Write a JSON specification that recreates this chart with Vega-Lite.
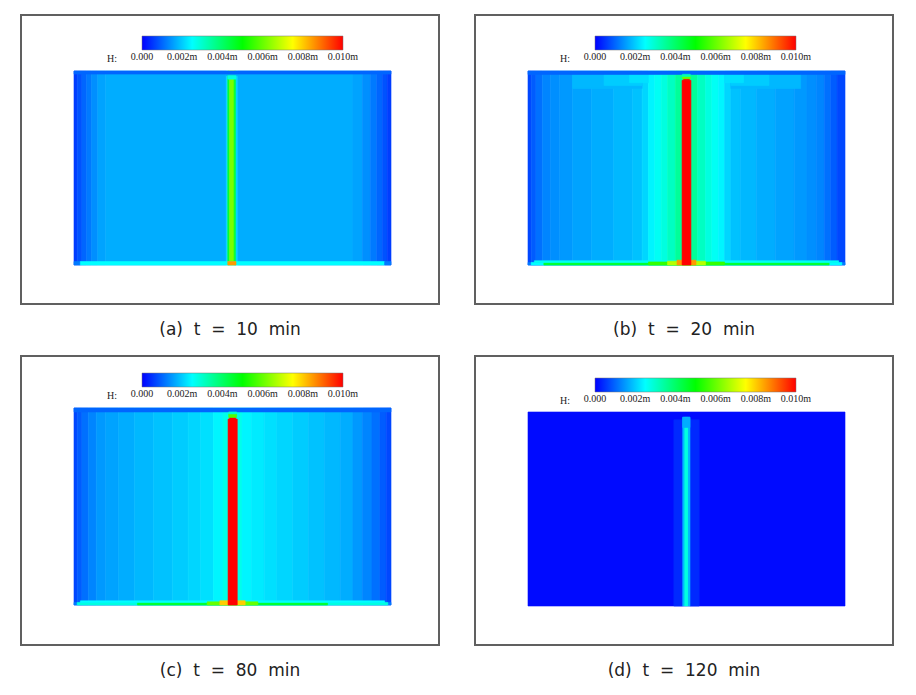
{
  "$schema": "https://vega.github.io/schema/vega-lite/v6.json",
  "background": "white",
  "padding": {"left": 20, "top": 14, "right": 0, "bottom": 0},
  "config": {
    "view": {"stroke": "#606060", "strokeWidth": 2},
    "title": {"font": "DejaVu Sans", "fontSize": 17, "fontWeight": "normal", "color": "#222222", "orient": "bottom", "offset": 18},
    "legend": {"orient": "none", "direction": "horizontal", "gradientLength": 201, "gradientThickness": 14, "gradientStrokeColor": "#777777", "gradientStrokeWidth": 0.5, "labelFont": "Liberation Serif", "labelFontSize": 10, "labelColor": "#222222", "labelOverlap": false, "labelOffset": 4, "titleFont": "Liberation Serif", "titleFontSize": 10, "titleFontWeight": "normal", "titleColor": "#222222", "titleOrient": "left", "titleAnchor": "end", "titleBaseline": "line-top", "titleLineHeight": 18, "titlePadding": 25}
  },
  "datasets": {
    "a": [
      {"x0": 0, "x1": 1, "y0": 0, "y1": 100, "H": 0.0006},
      {"x0": 1, "x1": 2.5, "y0": 0, "y1": 100, "H": 0.0008},
      {"x0": 2.5, "x1": 4, "y0": 0, "y1": 100, "H": 0.001},
      {"x0": 4, "x1": 5.5, "y0": 0, "y1": 100, "H": 0.0012},
      {"x0": 5.5, "x1": 7.5, "y0": 0, "y1": 100, "H": 0.0014},
      {"x0": 7.5, "x1": 10, "y0": 0, "y1": 100, "H": 0.0016},
      {"x0": 10, "x1": 48, "y0": 0, "y1": 100, "H": 0.0017},
      {"x0": 48, "x1": 48.5, "y0": 0, "y1": 100, "H": 0.0021},
      {"x0": 48.5, "x1": 49.1, "y0": 0, "y1": 100, "H": 0.0045},
      {"x0": 49.1, "x1": 50.5, "y0": 0, "y1": 100, "H": 0.0062},
      {"x0": 50.5, "x1": 51.1, "y0": 0, "y1": 100, "H": 0.0045},
      {"x0": 51.1, "x1": 51.7, "y0": 0, "y1": 100, "H": 0.0021},
      {"x0": 51.7, "x1": 88, "y0": 0, "y1": 100, "H": 0.0017},
      {"x0": 88, "x1": 91, "y0": 0, "y1": 100, "H": 0.0016},
      {"x0": 91, "x1": 93.5, "y0": 0, "y1": 100, "H": 0.0014},
      {"x0": 93.5, "x1": 95.5, "y0": 0, "y1": 100, "H": 0.0012},
      {"x0": 95.5, "x1": 97.3, "y0": 0, "y1": 100, "H": 0.001},
      {"x0": 97.3, "x1": 98.8, "y0": 0, "y1": 100, "H": 0.0008},
      {"x0": 98.8, "x1": 100, "y0": 0, "y1": 100, "H": 0.0006},
      {"x0": 48, "x1": 51.7, "y0": 97.6, "y1": 98.4, "H": 0.0017},
      {"x0": 48.5, "x1": 51.1, "y0": 95.8, "y1": 97.6, "H": 0.0028},
      {"x0": 0, "x1": 100, "y0": 98.4, "y1": 100, "H": 0.001},
      {"x0": 0, "x1": 2, "y0": 0, "y1": 1.8, "H": 0.0012},
      {"x0": 2, "x1": 98, "y0": 0, "y1": 1.8, "H": 0.0025},
      {"x0": 98, "x1": 100, "y0": 0, "y1": 1.8, "H": 0.0012},
      {"x0": 48.5, "x1": 51.1, "y0": 0, "y1": 1.8, "H": 0.0085}
    ],
    "b": [
      {"x0": 0, "x1": 1, "y0": 0, "y1": 100, "H": 0.0007},
      {"x0": 1, "x1": 2.5, "y0": 0, "y1": 100, "H": 0.0009},
      {"x0": 2.5, "x1": 4.5, "y0": 0, "y1": 100, "H": 0.0011},
      {"x0": 4.5, "x1": 7, "y0": 0, "y1": 100, "H": 0.0013},
      {"x0": 7, "x1": 10, "y0": 0, "y1": 100, "H": 0.0014},
      {"x0": 10, "x1": 14, "y0": 0, "y1": 100, "H": 0.0015},
      {"x0": 14, "x1": 20, "y0": 0, "y1": 100, "H": 0.0016},
      {"x0": 20, "x1": 27, "y0": 0, "y1": 100, "H": 0.0017},
      {"x0": 27, "x1": 33, "y0": 0, "y1": 100, "H": 0.0018},
      {"x0": 33, "x1": 36, "y0": 0, "y1": 100, "H": 0.0019},
      {"x0": 36, "x1": 38, "y0": 0, "y1": 100, "H": 0.0021},
      {"x0": 38, "x1": 40, "y0": 0, "y1": 100, "H": 0.0024},
      {"x0": 40, "x1": 42, "y0": 0, "y1": 100, "H": 0.0026},
      {"x0": 42, "x1": 44, "y0": 0, "y1": 100, "H": 0.0028},
      {"x0": 44, "x1": 46.5, "y0": 0, "y1": 100, "H": 0.0031},
      {"x0": 46.5, "x1": 53.5, "y0": 0, "y1": 100, "H": 0.0035},
      {"x0": 53.5, "x1": 56, "y0": 0, "y1": 100, "H": 0.0031},
      {"x0": 56, "x1": 58, "y0": 0, "y1": 100, "H": 0.0028},
      {"x0": 58, "x1": 60, "y0": 0, "y1": 100, "H": 0.0026},
      {"x0": 60, "x1": 62, "y0": 0, "y1": 100, "H": 0.0024},
      {"x0": 62, "x1": 64, "y0": 0, "y1": 100, "H": 0.0021},
      {"x0": 64, "x1": 67, "y0": 0, "y1": 100, "H": 0.0019},
      {"x0": 67, "x1": 72, "y0": 0, "y1": 100, "H": 0.0018},
      {"x0": 72, "x1": 78, "y0": 0, "y1": 100, "H": 0.0017},
      {"x0": 78, "x1": 84, "y0": 0, "y1": 100, "H": 0.0016},
      {"x0": 84, "x1": 88, "y0": 0, "y1": 100, "H": 0.0015},
      {"x0": 88, "x1": 91, "y0": 0, "y1": 100, "H": 0.0014},
      {"x0": 91, "x1": 93.5, "y0": 0, "y1": 100, "H": 0.0013},
      {"x0": 93.5, "x1": 95.5, "y0": 0, "y1": 100, "H": 0.0011},
      {"x0": 95.5, "x1": 97.5, "y0": 0, "y1": 100, "H": 0.0009},
      {"x0": 97.5, "x1": 100, "y0": 0, "y1": 100, "H": 0.0007},
      {"x0": 14, "x1": 36, "y0": 91, "y1": 98.2, "H": 0.0018},
      {"x0": 64, "x1": 86, "y0": 91, "y1": 98.2, "H": 0.0018},
      {"x0": 24, "x1": 36, "y0": 92.5, "y1": 98.2, "H": 0.002},
      {"x0": 64, "x1": 76, "y0": 92.5, "y1": 98.2, "H": 0.002},
      {"x0": 32, "x1": 38, "y0": 94, "y1": 98.2, "H": 0.0022},
      {"x0": 62, "x1": 68, "y0": 94, "y1": 98.2, "H": 0.0022},
      {"x0": 0, "x1": 100, "y0": 98.2, "y1": 100, "H": 0.001},
      {"x0": 0, "x1": 100, "y0": 0, "y1": 1.3, "H": 0.0012},
      {"x0": 1, "x1": 99, "y0": 0, "y1": 1.3, "H": 0.0025},
      {"x0": 5, "x1": 95, "y0": 0, "y1": 1.3, "H": 0.0045},
      {"x0": 2, "x1": 98, "y0": 1.3, "y1": 2.2, "H": 0.0026},
      {"x0": 38, "x1": 62, "y0": 0, "y1": 1.6, "H": 0.0055},
      {"x0": 44, "x1": 56, "y0": 0, "y1": 2, "H": 0.0068},
      {"x0": 47, "x1": 53, "y0": 0, "y1": 2.5, "H": 0.0085},
      {"x0": 48.6, "x1": 51.4, "y0": 0, "y1": 95.2, "H": 0.01},
      {"x0": 49.1, "x1": 50.9, "y0": 95.2, "y1": 96, "H": 0.01},
      {"x0": 48.7, "x1": 51.2, "y0": 96, "y1": 97.2, "H": 0.006},
      {"x0": 48.7, "x1": 51.2, "y0": 97.2, "y1": 98.3, "H": 0.0032}
    ],
    "c": [
      {"x0": 0, "x1": 1, "y0": 0, "y1": 100, "H": 0.0007},
      {"x0": 1, "x1": 2.5, "y0": 0, "y1": 100, "H": 0.0009},
      {"x0": 2.5, "x1": 4.5, "y0": 0, "y1": 100, "H": 0.0011},
      {"x0": 4.5, "x1": 7, "y0": 0, "y1": 100, "H": 0.0013},
      {"x0": 7, "x1": 10, "y0": 0, "y1": 100, "H": 0.0015},
      {"x0": 10, "x1": 14, "y0": 0, "y1": 100, "H": 0.0016},
      {"x0": 14, "x1": 19, "y0": 0, "y1": 100, "H": 0.0017},
      {"x0": 19, "x1": 25, "y0": 0, "y1": 100, "H": 0.0018},
      {"x0": 25, "x1": 31, "y0": 0, "y1": 100, "H": 0.0019},
      {"x0": 31, "x1": 36, "y0": 0, "y1": 100, "H": 0.002},
      {"x0": 36, "x1": 40, "y0": 0, "y1": 100, "H": 0.0021},
      {"x0": 40, "x1": 44, "y0": 0, "y1": 100, "H": 0.0022},
      {"x0": 44, "x1": 47, "y0": 0, "y1": 100, "H": 0.0024},
      {"x0": 47, "x1": 53, "y0": 0, "y1": 100, "H": 0.0027},
      {"x0": 53, "x1": 56, "y0": 0, "y1": 100, "H": 0.0024},
      {"x0": 56, "x1": 60, "y0": 0, "y1": 100, "H": 0.0023},
      {"x0": 60, "x1": 64, "y0": 0, "y1": 100, "H": 0.0022},
      {"x0": 64, "x1": 69, "y0": 0, "y1": 100, "H": 0.0021},
      {"x0": 69, "x1": 74, "y0": 0, "y1": 100, "H": 0.002},
      {"x0": 74, "x1": 79, "y0": 0, "y1": 100, "H": 0.0019},
      {"x0": 79, "x1": 84, "y0": 0, "y1": 100, "H": 0.0018},
      {"x0": 84, "x1": 88, "y0": 0, "y1": 100, "H": 0.0017},
      {"x0": 88, "x1": 91, "y0": 0, "y1": 100, "H": 0.0015},
      {"x0": 91, "x1": 94, "y0": 0, "y1": 100, "H": 0.0013},
      {"x0": 94, "x1": 96.5, "y0": 0, "y1": 100, "H": 0.0011},
      {"x0": 96.5, "x1": 98.5, "y0": 0, "y1": 100, "H": 0.0009},
      {"x0": 98.5, "x1": 100, "y0": 0, "y1": 100, "H": 0.0007},
      {"x0": 0, "x1": 100, "y0": 98, "y1": 100, "H": 0.001},
      {"x0": 0, "x1": 100, "y0": 0, "y1": 1.3, "H": 0.0012},
      {"x0": 1, "x1": 99, "y0": 0, "y1": 1.3, "H": 0.0028},
      {"x0": 20, "x1": 80, "y0": 0, "y1": 1.3, "H": 0.0045},
      {"x0": 2, "x1": 98, "y0": 1.3, "y1": 2.1, "H": 0.0025},
      {"x0": 42, "x1": 58, "y0": 0, "y1": 1.6, "H": 0.006},
      {"x0": 46, "x1": 54, "y0": 0, "y1": 2.2, "H": 0.008},
      {"x0": 48.6, "x1": 51.5, "y0": 0, "y1": 94.4, "H": 0.01},
      {"x0": 49.1, "x1": 51, "y0": 94.4, "y1": 95.2, "H": 0.01},
      {"x0": 48.8, "x1": 51.3, "y0": 95.2, "y1": 97, "H": 0.0058},
      {"x0": 48.8, "x1": 51.3, "y0": 97, "y1": 98, "H": 0.003}
    ],
    "d": [
      {"x0": 0, "x1": 100, "y0": 0, "y1": 100, "H": 0.0001},
      {"x0": 46, "x1": 48.8, "y0": 0, "y1": 96, "H": 0.0004},
      {"x0": 51.1, "x1": 54, "y0": 0, "y1": 96, "H": 0.0004},
      {"x0": 48.8, "x1": 49.4, "y0": 0, "y1": 97.3, "H": 0.0018},
      {"x0": 49.4, "x1": 50.6, "y0": 0, "y1": 97.3, "H": 0.0028},
      {"x0": 50.6, "x1": 51.1, "y0": 0, "y1": 97.3, "H": 0.0018},
      {"x0": 48.8, "x1": 51.1, "y0": 92, "y1": 97.3, "H": 0.0017}
    ]
  },
  "columns": 2,
  "spacing": {"row": 52, "column": 36},
  "bounds": "flush",
  "resolve": {"scale": {"color": "independent"}, "legend": {"color": "independent"}},
  "concat": [
    {
      "width": 418, "height": 289,
      "data": {"name": "a"},
      "title": {"text": "(a)\u00a0\u00a0t\u00a0\u00a0=\u00a0\u00a010\u00a0\u00a0min"},
      "mark": {"type": "rect", "strokeWidth": 0.6},
      "encoding": {
        "x": {"field": "x0", "type": "quantitative", "scale": {"domain": [-16.72, 115.14], "nice": false, "zero": false}, "axis": null},
        "x2": {"field": "x1"},
        "y": {"field": "y0", "type": "quantitative", "scale": {"domain": [-20.1, 128.87], "nice": false, "zero": false}, "axis": null},
        "y2": {"field": "y1"},
        "color": {"field": "H", "type": "quantitative",
          "scale": {"type": "linear", "domain": [0, 0.0025, 0.005, 0.0075, 0.01], "range": ["#0000ff", "#00ffff", "#00ff00", "#ffff00", "#ff0000"], "interpolate": "rgb", "clamp": true},
          "legend": {"title": "H:", "values": [0.0000001, 0.002, 0.004, 0.006, 0.008, 0.0099999], "labelExpr": "datum.value < 0.0005 ? '0.000' : format(datum.value, '.3f') + 'm'", "legendX": 86, "legendY": 21}},
        "stroke": {"field": "H", "type": "quantitative",
          "scale": {"type": "linear", "domain": [0, 0.0025, 0.005, 0.0075, 0.01], "range": ["#0000ff", "#00ffff", "#00ff00", "#ffff00", "#ff0000"], "interpolate": "rgb", "clamp": true},
          "legend": null}
      }
    },
    {
      "width": 418, "height": 289,
      "data": {"name": "b"},
      "title": {"text": "(b)\u00a0\u00a0t\u00a0\u00a0=\u00a0\u00a020\u00a0\u00a0min"},
      "mark": {"type": "rect", "strokeWidth": 0.6},
      "encoding": {
        "x": {"field": "x0", "type": "quantitative", "scale": {"domain": [-16.72, 115.14], "nice": false, "zero": false}, "axis": null},
        "x2": {"field": "x1"},
        "y": {"field": "y0", "type": "quantitative", "scale": {"domain": [-20.1, 128.87], "nice": false, "zero": false}, "axis": null},
        "y2": {"field": "y1"},
        "color": {"field": "H", "type": "quantitative",
          "scale": {"type": "linear", "domain": [0, 0.0025, 0.005, 0.0075, 0.01], "range": ["#0000ff", "#00ffff", "#00ff00", "#ffff00", "#ff0000"], "interpolate": "rgb", "clamp": true},
          "legend": {"title": "H:", "values": [0.0000001, 0.002, 0.004, 0.006, 0.008, 0.0099999], "labelExpr": "datum.value < 0.0005 ? '0.000' : format(datum.value, '.3f') + 'm'", "legendX": 85, "legendY": 21}},
        "stroke": {"field": "H", "type": "quantitative",
          "scale": {"type": "linear", "domain": [0, 0.0025, 0.005, 0.0075, 0.01], "range": ["#0000ff", "#00ffff", "#00ff00", "#ffff00", "#ff0000"], "interpolate": "rgb", "clamp": true},
          "legend": null}
      }
    },
    {
      "width": 418, "height": 289,
      "data": {"name": "c"},
      "title": {"text": "(c)\u00a0\u00a0t\u00a0\u00a0=\u00a0\u00a080\u00a0\u00a0min"},
      "mark": {"type": "rect", "strokeWidth": 0.6},
      "encoding": {
        "x": {"field": "x0", "type": "quantitative", "scale": {"domain": [-16.72, 115.14], "nice": false, "zero": false}, "axis": null},
        "x2": {"field": "x1"},
        "y": {"field": "y0", "type": "quantitative", "scale": {"domain": [-20.3, 126.4], "nice": false, "zero": false}, "axis": null},
        "y2": {"field": "y1"},
        "color": {"field": "H", "type": "quantitative",
          "scale": {"type": "linear", "domain": [0, 0.0025, 0.005, 0.0075, 0.01], "range": ["#0000ff", "#00ffff", "#00ff00", "#ffff00", "#ff0000"], "interpolate": "rgb", "clamp": true},
          "legend": {"title": "H:", "values": [0.0000001, 0.002, 0.004, 0.006, 0.008, 0.0099999], "labelExpr": "datum.value < 0.0005 ? '0.000' : format(datum.value, '.3f') + 'm'", "legendX": 86, "legendY": 17}},
        "stroke": {"field": "H", "type": "quantitative",
          "scale": {"type": "linear", "domain": [0, 0.0025, 0.005, 0.0075, 0.01], "range": ["#0000ff", "#00ffff", "#00ff00", "#ffff00", "#ff0000"], "interpolate": "rgb", "clamp": true},
          "legend": null}
      }
    },
    {
      "width": 418, "height": 289,
      "data": {"name": "d"},
      "title": {"text": "(d)\u00a0\u00a0t\u00a0\u00a0=\u00a0\u00a0120\u00a0\u00a0min"},
      "mark": {"type": "rect", "strokeWidth": 0.6},
      "encoding": {
        "x": {"field": "x0", "type": "quantitative", "scale": {"domain": [-16.72, 115.14], "nice": false, "zero": false}, "axis": null},
        "x2": {"field": "x1"},
        "y": {"field": "y0", "type": "quantitative", "scale": {"domain": [-20.1, 128.87], "nice": false, "zero": false}, "axis": null},
        "y2": {"field": "y1"},
        "color": {"field": "H", "type": "quantitative",
          "scale": {"type": "linear", "domain": [0, 0.0025, 0.005, 0.0075, 0.01], "range": ["#0000ff", "#00ffff", "#00ff00", "#ffff00", "#ff0000"], "interpolate": "rgb", "clamp": true},
          "legend": {"title": "H:", "values": [0.0000001, 0.002, 0.004, 0.006, 0.008, 0.0099999], "labelExpr": "datum.value < 0.0005 ? '0.000' : format(datum.value, '.3f') + 'm'", "legendX": 85, "legendY": 22}},
        "stroke": {"field": "H", "type": "quantitative",
          "scale": {"type": "linear", "domain": [0, 0.0025, 0.005, 0.0075, 0.01], "range": ["#0000ff", "#00ffff", "#00ff00", "#ffff00", "#ff0000"], "interpolate": "rgb", "clamp": true},
          "legend": null}
      }
    }
  ]
}
